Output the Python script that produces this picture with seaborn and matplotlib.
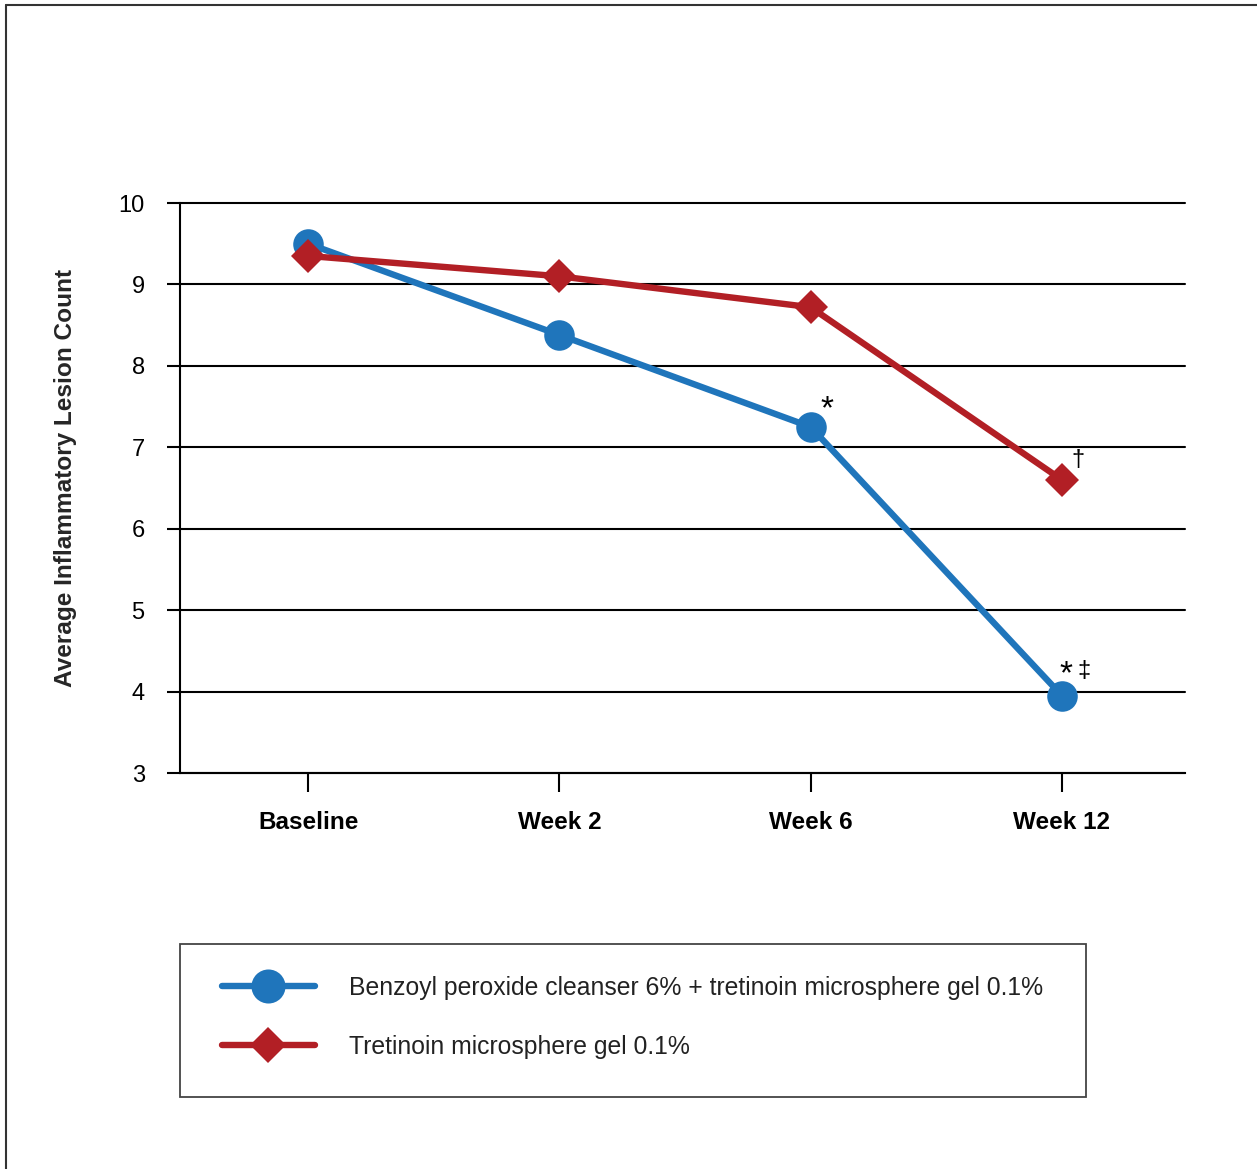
import matplotlib
matplotlib.use("Agg")
import matplotlib.pyplot as plt
from matplotlib.lines import Line2D
from matplotlib.patches import Rectangle
import pandas as pd
import seaborn as sns

# Data
visits = ["Baseline", "Week 2", "Week 6", "Week 12"]
combo_label = "Benzoyl peroxide cleanser 6% + tretinoin microsphere gel 0.1%"
mono_label = "Tretinoin microsphere gel 0.1%"
combo_counts = [9.5, 8.38, 7.25, 3.95]
mono_counts = [9.35, 9.1, 8.72, 6.6]
y_ticks = [3, 4, 5, 6, 7, 8, 9, 10]

BLUE = "#1f75bb"
RED = "#b21f25"

df = pd.DataFrame({
    "visit": visits * 2,
    "count": combo_counts + mono_counts,
    "group": [combo_label] * 4 + [mono_label] * 4,
})
df["pos"] = df["visit"].map({v: i for i, v in enumerate(visits)})

sns.set_style("white")
plt.rcParams["font.family"] = ["Liberation Sans", "DejaVu Sans"]

W, H = 1257, 1169
fig = plt.figure(figsize=(W / 100, H / 100), dpi=100)
ax = fig.add_axes([180 / W, 396 / H, 1005 / W, 570 / H])

# Each group gets its own marker size (circles vs diamonds)
for grp, mk, ms, col in [(combo_label, "o", 22, BLUE), (mono_label, "D", 17, RED)]:
    sns.lineplot(
        data=df[df["group"] == grp], x="pos", y="count",
        color=col, marker=mk, markersize=ms, markeredgewidth=0,
        linewidth=4.6, sort=False, ax=ax, legend=False, zorder=3,
    )

ax.set_xlim(-0.51, 3.49)
ax.set_ylim(3, 10)
ax.set_yticks(y_ticks)
ax.set_xticks(range(len(visits)))
ax.set_xticklabels(visits, fontweight="bold", fontsize=17.5)
ax.set_xlabel("")
ax.set_ylabel("Average Inflammatory Lesion Count", fontsize=17.6,
              fontweight="bold")
ax.yaxis.set_label_coords(-0.1025, (773 - 478) / 570)
ax.yaxis.grid(True, color="black", linewidth=1.5)
for gl in ax.get_ygridlines():
    gl.set_clip_on(False)
ax.set_axisbelow(True)
ax.tick_params(axis="y", direction="out", length=9.4, width=1.5, pad=16,
               labelsize=17, colors="black", left=True)
ax.tick_params(axis="x", direction="out", length=13.5, width=1.5, pad=14,
               colors="black", bottom=True)
for s in ["top", "right"]:
    ax.spines[s].set_visible(False)
for s in ["left", "bottom"]:
    ax.spines[s].set_color("black")
    ax.spines[s].set_linewidth(1.5)

# Significance markers
notes = [
    (2, combo_counts[2], "*", (11.5, 12.0), 24),
    (3, mono_counts[3], "\u2020", (11.5, 14.4), 17),
    (3, combo_counts[3], "*", (2.9, 15.0), 24),
    (3, combo_counts[3], "\u2021", (15.8, 17.5), 17),
]
for x, y, txt, off, fs in notes:
    ax.annotate(txt, (x, y), xytext=off, textcoords="offset points",
                ha="center", va="center", fontsize=fs, color="black")

# Legend box and entries
fig.add_artist(Rectangle((180 / W, 1 - 1097 / H), 906 / W, 153 / H,
                         transform=fig.transFigure, fill=False,
                         edgecolor="#444444", linewidth=1.3))
handles = [
    Line2D([], [], color=BLUE, lw=4.6, marker="o", markersize=24.5, mew=0),
    Line2D([], [], color=RED, lw=4.6, marker="D", markersize=18, mew=0),
]
leg = fig.legend(
    handles, [combo_label, mono_label], loc="center left",
    bbox_to_anchor=(222 / W, 1 - 1017.5 / H),
    borderaxespad=0, borderpad=0, fontsize=17.8, frameon=False,
    handlelength=3.75, handletextpad=1.4, labelspacing=1.42,
)
for t in leg.get_texts():
    t.set_color("#222222")

# Outer frame
fig.add_artist(Line2D([6 / W, 1], [1 - 5 / H, 1 - 5 / H], color="#333333", lw=1.5))
fig.add_artist(Line2D([6 / W, 6 / W], [0, 1 - 5 / H], color="#333333", lw=1.5))

fig.savefig("out.png", dpi=100, facecolor="white")
